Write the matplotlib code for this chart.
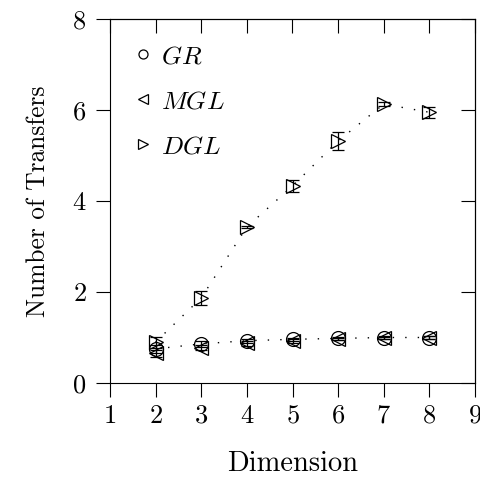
import matplotlib
matplotlib.use('Agg')
import matplotlib.pyplot as plt
from matplotlib.lines import Line2D

plt.rcParams['font.family'] = 'cmr10'
plt.rcParams['mathtext.fontset'] = 'cm'
plt.rcParams['axes.formatter.use_mathtext'] = True

dims = [2, 3, 4, 5, 6, 7, 8]
gr = [0.75, 0.86, 0.93, 0.96, 0.98, 1.0, 1.0]
mgl = [0.65, 0.78, 0.87, 0.92, 0.97, 0.99, 1.0]
dgl = [0.9, 1.87, 3.43, 4.33, 5.32, 6.13, 5.95]
dgl_err = [0.12, 0.15, 0.03, 0.14, 0.2, 0.05, 0.12]
gr_err = [0.08, 0.06, 0.04, 0.04, 0.03, 0.03, 0.03]
mgl_err = [0.08, 0.06, 0.05, 0.04, 0.03, 0.03, 0.03]
labels = ['$GR$', '$MGL$', '$DGL$']
xticks = [1, 2, 3, 4, 5, 6, 7, 8, 9]
yticks = [0, 2, 4, 6, 8]

fig = plt.figure(figsize=(4.81, 4.80), dpi=100)
ax = fig.add_axes([110/481, 97/480, 365/481, 364/480])

# dotted connecting lines
ax.plot(dims, dgl, ls=(0, (1, 8)), color='black', lw=1)
ax.plot(dims, gr, ls=(0, (1, 8)), color='black', lw=1)

mk = dict(mfc='none', mec='black', color='black', ms=10, mew=0.9,
          elinewidth=0.9, capsize=4.5, capthick=0.9, ls='none')
ax.errorbar(dims, gr, yerr=gr_err, marker='o', **mk)
ax.errorbar(dims, mgl, yerr=mgl_err, marker='<', **mk)
ax.errorbar(dims, dgl, yerr=dgl_err, marker='>', **mk)

ax.set_xlim(1, 9)
ax.set_ylim(0, 8)
ax.set_xticks(xticks)
ax.set_yticks(yticks)
ax.tick_params(labelsize=19, length=10, width=0.8, direction='out')
ax.tick_params(axis='x', pad=5)
ax.tick_params(axis='y', pad=7)
ax.set_xlabel('Dimension', fontsize=20.5)
ax.set_ylabel('Number of Transfers', fontsize=18.3)
ax.xaxis.set_label_coords(0.5, -0.185)
ax.yaxis.set_label_coords(-0.165, 0.5)

# top and right ticks point inward
sec_x = ax.secondary_xaxis('top')
sec_x.set_xticks(xticks)
sec_x.tick_params(direction='in', length=10, width=0.8, labeltop=False)
sec_y = ax.secondary_yaxis('right')
sec_y.set_yticks(yticks)
sec_y.tick_params(direction='in', length=10, width=0.8, labelright=False)

hs = [Line2D([], [], marker=m, mfc='none', mec='black', ls='none', ms=6.5, mew=0.9)
      for m in ['o', '<', '>']]
ax.legend(hs, labels, loc='upper left', frameon=False, fontsize=18.5,
          handlelength=0.6, handletextpad=0.4, labelspacing=0.82,
          borderaxespad=0.6)

fig.savefig('out.png', dpi=100)
